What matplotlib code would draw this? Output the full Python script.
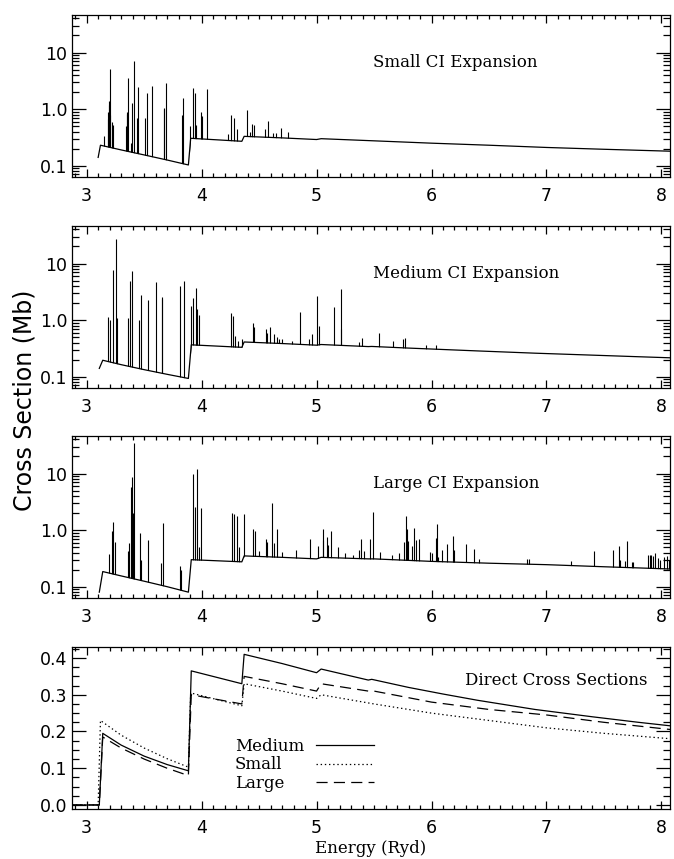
import numpy as np
import matplotlib
matplotlib.use('Agg')
import matplotlib.pyplot as plt
from matplotlib.ticker import FixedLocator, FixedFormatter, MultipleLocator, LogLocator, NullFormatter

# direct (background) cross sections, Mb
e_small = [2.87, 3.10, 3.12, 3.3, 3.5, 3.7, 3.885, 3.905, 4.35, 4.37, 4.7, 5.0, 5.04, 5.5, 6.0, 6.5, 7.0, 7.5, 8.09]
s_small = [0, 0, 0.23, 0.19, 0.155, 0.126, 0.103, 0.305, 0.27, 0.33, 0.31, 0.29, 0.30, 0.275, 0.25, 0.23, 0.21, 0.195, 0.18]

e_medium = [2.87, 3.11, 3.14, 3.3, 3.5, 3.7, 3.885, 3.91, 4.35, 4.37, 4.7, 5.0, 5.04, 5.45, 5.48, 5.8, 6.1, 6.4, 6.9, 7.4, 7.8, 8.09]
s_medium = [0, 0, 0.195, 0.163, 0.133, 0.11, 0.093, 0.365, 0.33, 0.41, 0.385, 0.36, 0.37, 0.34, 0.342, 0.32, 0.302, 0.285, 0.26, 0.24, 0.225, 0.215]

e_large = [2.87, 3.11, 3.14, 3.3, 3.5, 3.7, 3.885, 3.91, 4.35, 4.37, 4.7, 5.0, 5.04, 5.45, 5.5, 6.0, 6.5, 7.0, 7.5, 8.09]
s_large = [0, 0, 0.185, 0.155, 0.125, 0.1, 0.08, 0.30, 0.275, 0.35, 0.33, 0.31, 0.33, 0.31, 0.31, 0.28, 0.26, 0.245, 0.225, 0.205]

# low edge of the threshold step on the log panels
edge_small, edge_medium, edge_large = 0.14, 0.14, 0.08

# resonance peaks: energy (Ryd), peak value (Mb)
res_small_e = [3.151, 3.183, 3.188, 3.194, 3.198, 3.203, 3.207, 3.223, 3.232,
               3.345, 3.348, 3.352, 3.357, 3.386, 3.397, 3.414, 3.438, 3.449, 3.507, 3.522, 3.571,
               3.67, 3.675, 3.687, 3.826, 3.84, 3.9, 3.922, 3.942, 3.954, 3.991, 4.0, 4.049,
               4.232, 4.252, 4.281, 4.304, 4.391, 4.42, 4.438, 4.455, 4.551, 4.574, 4.623, 4.643, 4.687, 4.754]
res_small_v = [0.34, 0.66, 0.9, 1.38, 1.2, 5.2, 0.8, 0.6, 0.52,
               0.5, 0.83, 0.9, 3.5, 0.25, 1.3, 7.1, 0.7, 2.5, 0.7, 1.9, 2.6,
               1.05, 1.0, 2.9, 0.8, 1.6, 0.5, 2.4, 1.9, 0.52, 0.9, 0.75, 2.3,
               0.37, 0.8, 0.7, 0.45, 0.98, 0.4, 0.54, 0.52, 0.44, 0.61, 0.38, 0.38, 0.47, 0.4]

res_medium_e = [3.183, 3.203, 3.232, 3.252, 3.264, 3.359, 3.374, 3.391, 3.458, 3.472, 3.536, 3.606,
                3.652, 3.658, 3.812, 3.846, 3.91, 3.925, 3.948, 3.96, 3.977,
                4.26, 4.275, 4.29, 4.32, 4.354, 4.443, 4.458, 4.556, 4.568, 4.597, 4.632, 4.652, 4.675, 4.696,
                4.788, 4.855, 4.936, 4.962, 5.006, 5.023, 5.154, 5.212, 5.217, 5.368, 5.391,
                5.543, 5.666, 5.753, 5.773, 5.956, 6.04]
res_medium_v = [1.15, 1.0, 7.8, 27, 1.1, 1.1, 4.9, 7.3, 1.0, 2.8, 2.25, 4.7,
                2.6, 2.4, 4.0, 4.9, 1.8, 2.5, 3.7, 1.55, 1.23,
                1.35, 1.2, 0.52, 0.42, 0.47, 0.9, 0.77, 0.69, 0.6, 0.77, 0.56, 0.5, 0.47, 0.46,
                0.42, 1.4, 0.47, 0.56, 2.65, 0.8, 1.7, 3.6, 0.7, 0.41, 0.49,
                0.6, 0.42, 0.47, 0.49, 0.36, 0.37]

res_large_e = [3.197, 3.217, 3.232, 3.246, 3.362, 3.372, 3.383, 3.391, 3.40, 3.41,
               3.462, 3.477, 3.536, 3.651, 3.667, 3.81, 3.824,
               3.925, 3.941, 3.962, 3.98, 3.994,
               4.261, 4.281, 4.31, 4.325, 4.371, 4.443, 4.464, 4.499, 4.557, 4.571, 4.609, 4.63, 4.655, 4.696,
               4.823, 4.945, 5.014, 5.052, 5.06, 5.087, 5.101, 5.125, 5.183, 5.246, 5.319,
               5.368, 5.386, 5.414, 5.464, 5.493, 5.551, 5.652, 5.719, 5.762, 5.774, 5.783, 5.797,
               5.832, 5.849, 5.869, 5.89, 5.985, 6.0, 6.037, 6.049, 6.06, 6.09, 6.134, 6.183, 6.2,
               6.304, 6.368, 6.414, 6.835, 6.852, 7.214, 7.414, 7.577, 7.632, 7.64, 7.68, 7.701, 7.74, 7.755,
               7.884, 7.9, 7.909, 7.925, 7.948, 7.97, 7.99, 8.02, 8.05, 8.07]
res_large_v = [0.38, 0.96, 1.4, 0.62, 0.42, 0.6, 5.8, 8.8, 2.0, 34,
               0.88, 0.3, 0.66, 0.26, 1.35, 0.23, 0.2,
               10, 2.6, 12, 0.5, 2.5,
               2.0, 1.9, 1.8, 0.5, 1.9, 1.05, 0.95, 0.42, 0.7, 0.62, 3.0, 0.6, 1.05, 0.41,
               0.44, 0.7, 0.53, 1.03, 0.68, 0.75, 0.55, 0.96, 0.5, 0.4, 0.36,
               0.45, 0.71, 0.42, 0.7, 2.1, 0.41, 0.36, 0.4, 0.61, 1.8, 1.03, 0.63,
               0.52, 1.07, 0.68, 0.71, 0.41, 0.4, 0.73, 1.29, 0.33, 0.45, 0.56, 0.8, 0.45,
               0.57, 0.47, 0.31, 0.31, 0.31, 0.29, 0.43, 0.45, 0.52, 0.3, 0.28, 0.64, 0.27, 0.27,
               0.36, 0.36, 0.37, 0.35, 0.39, 0.32, 0.3, 0.33, 0.35, 0.3]

panels = [("Small CI Expansion", e_small, s_small, edge_small, res_small_e, res_small_v),
          ("Medium CI Expansion", e_medium, s_medium, edge_medium, res_medium_e, res_medium_v),
          ("Large CI Expansion", e_large, s_large, edge_large, res_large_e, res_large_v)]

plt.rcParams['lines.scale_dashes'] = False
serif = 'DejaVu Serif'
fig = plt.figure(figsize=(6.74, 8.59), dpi=100)

left, width, height = 0.1064, 0.8877, 0.1886
bottoms = [0.7939, 0.5483, 0.3038, 0.0582]
xlim = (2.87, 8.075)


def style_axis(ax):
    ax.set_xlim(*xlim)
    ax.xaxis.set_major_locator(MultipleLocator(1))
    ax.xaxis.set_minor_locator(MultipleLocator(0.1))
    ax.tick_params(which='both', direction='in', top=True, right=True, width=0.9, labelsize=12.5)
    ax.tick_params(axis='x', which='major', length=6, pad=7)
    ax.tick_params(axis='x', which='minor', length=3)
    ax.tick_params(axis='y', which='major', length=10, pad=3)
    ax.tick_params(axis='y', which='minor', length=5)
    for sp in ax.spines.values():
        sp.set_linewidth(0.9)


for i, (title, e, s, edge, re_, rv) in enumerate(panels):
    ax = fig.add_axes([left, bottoms[i], width, height])
    e = np.array(e)
    s = np.array(s)
    on = s > 0
    x_bg = np.concatenate([[e[~on][-1]], e[on]])
    y_bg = np.concatenate([[edge], s[on]])
    ax.vlines(re_, 0.01, rv, color='black', lw=0.8, zorder=1)
    # hide the part of each resonance line that lies under the direct cross section
    ax.fill_between(x_bg, 0.01, y_bg, color='white', lw=0, zorder=1.5)
    ax.plot(x_bg, y_bg, color='black', lw=0.9, zorder=2)
    ax.set_yscale('log')
    ax.set_ylim(0.063, 46)
    ax.yaxis.set_major_locator(FixedLocator([0.1, 1, 10]))
    ax.yaxis.set_major_formatter(FixedFormatter(['0.1', '1.0', '10']))
    ax.yaxis.set_minor_locator(LogLocator(base=10, subs=np.arange(2, 10), numticks=20))
    ax.yaxis.set_minor_formatter(NullFormatter())
    style_axis(ax)
    ax.text(0.504, 0.704, title, transform=ax.transAxes, family=serif, fontsize=12,
            ha='left', va='center')

ax = fig.add_axes([left, bottoms[3], width, height])
ax.plot(e_medium, s_medium, color='black', lw=0.9, ls='-', label='Medium')
ax.plot(e_small, s_small, color='black', lw=0.9, ls=(0, (1, 2)), label='Small')
ax.plot(e_large, s_large, color='black', lw=0.9, ls=(0, (8, 4.5)), label='Large')
ax.set_ylim(-0.011, 0.43)
ax.yaxis.set_major_locator(MultipleLocator(0.1))
ax.yaxis.set_minor_locator(MultipleLocator(0.025))
ax.yaxis.set_major_formatter(plt.FormatStrFormatter('%.1f'))
style_axis(ax)
ax.text(0.963, 0.796, "Direct Cross Sections", transform=ax.transAxes, family=serif,
        fontsize=12, ha='right', va='center')
leg = ax.legend(loc='upper left', bbox_to_anchor=(0.273, 0.44), frameon=False, markerfirst=False,
                handlelength=3.5, handletextpad=0.5, labelspacing=0.1, borderpad=0,
                borderaxespad=0, prop={'family': serif, 'size': 12})
# labels left aligned, line samples in one column on the right
for col in leg._legend_handle_box.get_children():
    col.align = 'left'
    for row in col.get_children():
        row.mode = 'expand'
        row.width = 139
ax.set_xlabel('Energy (Ryd)', family=serif, fontsize=12, labelpad=2)

fig.text(0.036, 1 - 400 / 859, 'Cross Section (Mb)', rotation=90, fontsize=17,
         ha='center', va='center')

fig.savefig('out.png', dpi=100)
